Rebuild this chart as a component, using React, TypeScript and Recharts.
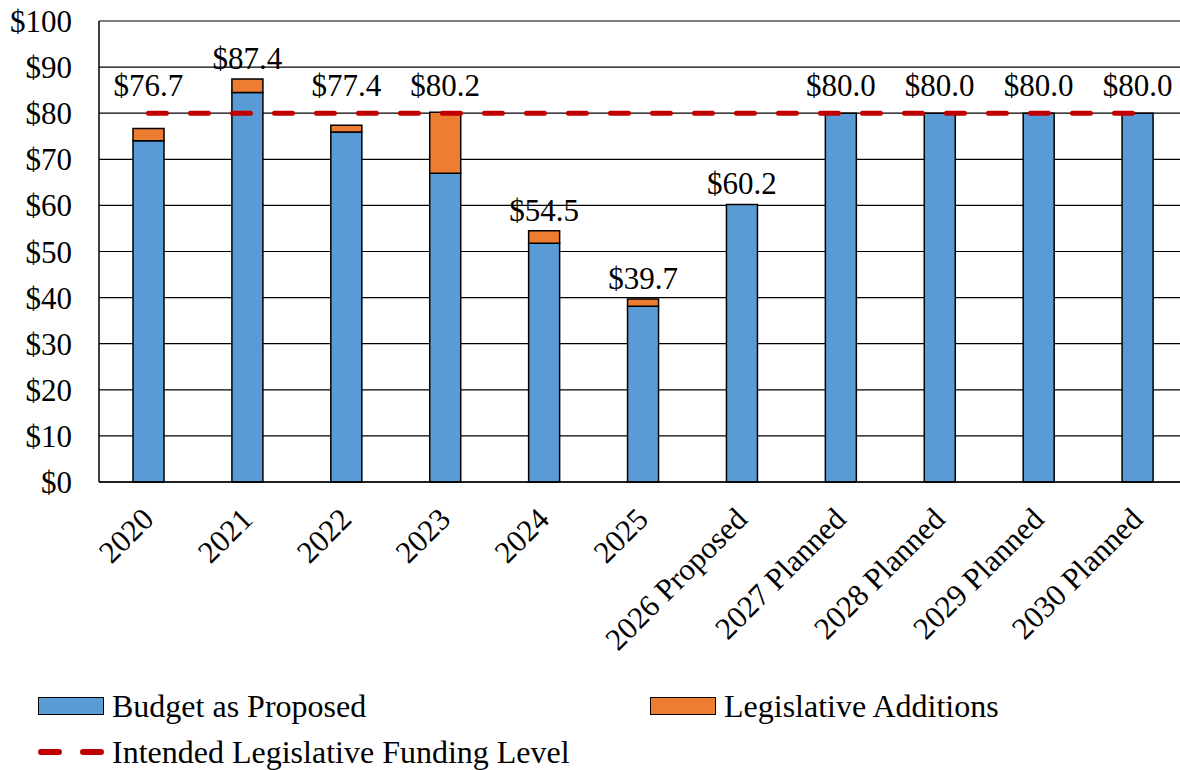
import { ComposedChart, Bar, Line, XAxis, YAxis, CartesianGrid, Legend, LabelList } from 'recharts'

const categories = [
  '2020', '2021', '2022', '2023', '2024', '2025',
  '2026 Proposed', '2027 Planned', '2028 Planned', '2029 Planned', '2030 Planned'
]
const budgetProposed = [74.0, 84.5, 75.9, 67.0, 51.8, 38.1, 60.2, 80.0, 80.0, 80.0, 80.0]
const legislativeAdditions = [2.7, 2.9, 1.5, 13.2, 2.7, 1.6, 0, 0, 0, 0, 0]
const fundingLevel = [80, 80, 80, 80, 80, 80, 80, 80, 80, 80, 80]
const yTicks = [0, 10, 20, 30, 40, 50, 60, 70, 80, 90, 100]

const FONT = '"Liberation Serif", "Times New Roman", serif'
const FS = 31
const BLUE = '#5B9BD5'
const ORANGE = '#ED7D31'
const RED = '#C00000'

const data = categories.map((name, i) => ({
  name,
  proposed: budgetProposed[i],
  additions: legislativeAdditions[i],
  total: +(budgetProposed[i] + legislativeAdditions[i]).toFixed(1),
  level: fundingLevel[i],
}))

const PLOT_H = 461 // px for 0..100

const TotalLabel = (props: any) => {
  const { x, y, value } = props
  if (x == null || y == null) return null
  let by = y - 10
  // labels for bars near the funding line sit above the dashed line
  if (value >= 70 && value <= 82) {
    by = y - (80 - value) * (PLOT_H / 100) - 17
  }
  return (
    <text x={x} y={by} textAnchor="middle" fontFamily={FONT} fontSize={FS} fill="#000">
      ${Number(value).toFixed(1)}
    </text>
  )
}

const XTick = (props: any) => {
  const { x, y, payload } = props
  const tx = x + 7
  const ty = y + 31
  return (
    <text x={tx} y={ty} transform={`rotate(-45, ${tx}, ${ty})`} textAnchor="end"
      fontFamily={FONT} fontSize={FS} fill="#000">
      {payload.value}
    </text>
  )
}

const LegendContent = () => (
  <div style={{ position: 'relative', width: 1180, height: 80, fontFamily: FONT, fontSize: 32, color: '#000', lineHeight: 1 }}>
    <div style={{ position: 'absolute', left: 38, top: 4, display: 'flex', alignItems: 'center' }}>
      <div style={{ width: 64, height: 16, background: BLUE, border: '1.5px solid #000', marginRight: 8 }} />
      <span>Budget as Proposed</span>
    </div>
    <div style={{ position: 'absolute', left: 650, top: 4, display: 'flex', alignItems: 'center' }}>
      <div style={{ width: 64, height: 16, background: ORANGE, border: '1.5px solid #000', marginRight: 8 }} />
      <span>Legislative Additions</span>
    </div>
    <div style={{ position: 'absolute', left: 38, top: 50, display: 'flex', alignItems: 'center' }}>
      <svg width={66} height={10} style={{ marginRight: 8 }}>
        <line x1={3} y1={5} x2={63} y2={5} stroke={RED} strokeWidth={6}
          strokeDasharray="18 24" strokeLinecap="round" />
      </svg>
      <span>Intended Legislative Funding Level</span>
    </div>
  </div>
)

export default function App() {
  return (
    <div style={{ position: 'absolute', left: 0, top: 0, width: 1180, height: 770, overflow: 'hidden', background: '#fff' }}>
      <ComposedChart width={1200} height={770} data={data}
        margin={{ top: 21, right: 13, bottom: 8, left: 0 }}>
        <CartesianGrid vertical={false} stroke="#000" strokeWidth={1.2} />
        <XAxis dataKey="name" height={200} interval={0} tickLine={false}
          axisLine={{ stroke: '#000', strokeWidth: 1.5 }} tick={<XTick />} />
        <YAxis domain={[0, 100]} ticks={yTicks} width={99} tickLine={false}
          axisLine={{ stroke: '#000', strokeWidth: 1.5 }} tickMargin={21}
          tickFormatter={(v: number) => `$${v}`}
          tick={{ fontFamily: FONT, fontSize: FS, fill: '#000' }} />
        <Bar dataKey="proposed" stackId="a" fill={BLUE} stroke="#000" strokeWidth={1.5}
          barSize={31} isAnimationActive={false} />
        <Bar dataKey="additions" stackId="a" fill={ORANGE} stroke="#000" strokeWidth={1.5}
          barSize={31} isAnimationActive={false} />
        <Line dataKey="total" stroke="none" dot={false} activeDot={false}
          isAnimationActive={false} legendType="none">
          <LabelList dataKey="total" content={<TotalLabel />} />
        </Line>
        <Line dataKey="level" stroke={RED} strokeWidth={5} strokeDasharray="18 24"
          strokeLinecap="round" dot={false} activeDot={false} isAnimationActive={false} />
        <Legend content={<LegendContent />}
          wrapperStyle={{ position: 'absolute', left: 0, top: 686, width: 1180 }} />
      </ComposedChart>
    </div>
  )
}
